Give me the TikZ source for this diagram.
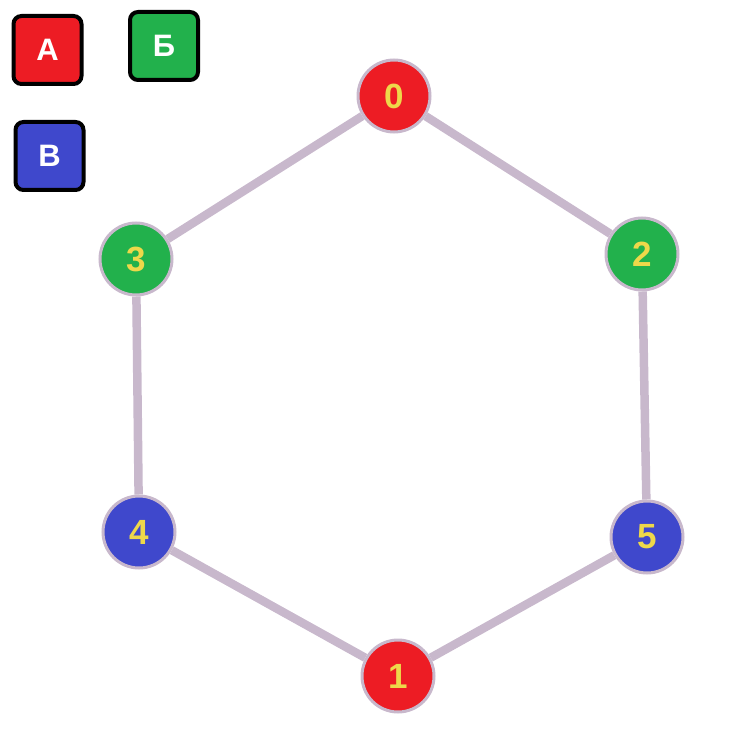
\documentclass[tikz,border=0pt]{standalone}
\usepackage{fontspec}
\setmainfont{Liberation Sans}
\usetikzlibrary{positioning}

\definecolor{cred}{HTML}{ED1C24}
\definecolor{cgreen}{HTML}{22B14C}
\definecolor{cblue}{HTML}{3F48CC}
\definecolor{cedge}{HTML}{C8B8CC}
\definecolor{cdigit}{HTML}{EED84A}

\begin{document}
\begin{tikzpicture}[
  x=1pt,y=-1pt,
  vtx/.style={circle,draw=cedge,line width=3pt,minimum size=72pt,inner sep=0pt,
              text=cdigit,font=\fontsize{35}{35}\selectfont\bfseries},
  redv/.style={vtx,fill=cred},
  greenv/.style={vtx,fill=cgreen},
  bluev/.style={vtx,fill=cblue},
  legbox/.style={draw=black,line width=4pt,rounded corners=8pt,minimum size=68pt,
                 inner sep=0pt,text=white,font=\fontsize{31}{31}\selectfont\bfseries},
  edge/.style={draw=cedge,line width=8.5pt},
]
\useasboundingbox (0,0) rectangle (750,730);

% ---------------- legend ----------------
\node[legbox,fill=cred]   (legA) at (47.5,50) {А};
\node[legbox,fill=cgreen] (legB) at (164,46)  {Б};
\node[legbox,fill=cblue]  (legV) at (49.5,156) {В};

% ---------------- vertices ----------------
\node[redv]   (v0) at (394,96)  {0};
\node[greenv] (v2) at (642,254) {2};
\node[greenv] (v3) at (136,259) {3};
\node[bluev]  (v4) at (139,532) {4};
\node[bluev]  (v5) at (647,537) {5};
\node[redv]   (v1) at (398,676) {1};

% ---------------- edges ----------------
\foreach \a/\b in {v0/v2,v0/v3,v3/v4,v4/v1,v1/v5,v5/v2}{\draw[edge] (\a) -- (\b);}

\end{tikzpicture}
\end{document}
